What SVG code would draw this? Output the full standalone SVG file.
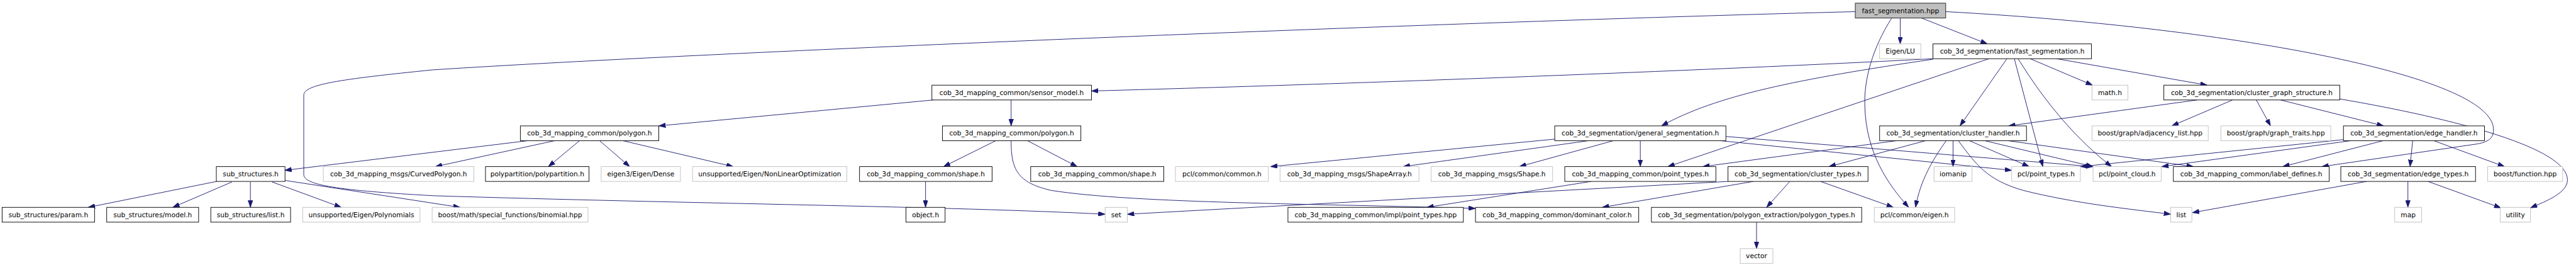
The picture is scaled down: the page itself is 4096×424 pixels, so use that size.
<svg xmlns="http://www.w3.org/2000/svg" width="4096" height="424" viewBox="0 0 4096 424">
<style>
.n rect{fill:#fff;stroke:#000;stroke-width:1.1}
.n.g rect{stroke:#bfbfbf}
.n.r rect{fill:#bfbfbf;stroke:#404040;stroke-width:1.4}
.n text{font-family:"DejaVu Sans","Liberation Sans",sans-serif;font-size:12.7px;text-anchor:middle;fill:#000}
#edges path{fill:none;stroke:#191970;stroke-width:1.1;marker-end:url(#ah)}
</style>
<defs>
<marker id="ah" markerUnits="userSpaceOnUse" markerWidth="13" markerHeight="9" refX="13" refY="4.5" orient="auto">
<path d="M0,0 L13,4.5 L0,9 z" fill="#191970" stroke="#191970" stroke-width="0.8"/>
</marker>
</defs>
<rect x="0" y="0" width="4096" height="424" fill="#fff"/>
<g transform="scale(0.84)">
<g id="edges">
<path d="M3597,34 L3597,83"/>
<path d="M3637,34 L3762,83"/>
<path d="M3581,34 C3545,90 3528,150 3530,200 C3532,290 3575,350 3613,392"/>
<path d="M3512,22 C2800,40 1400,95 820,132 C640,150 575,160 575,180 L575,330 C575,350 640,360 820,370 C1300,385 1800,390 2092,405"/>
<path d="M3683,22 C4200,50 4720,140 4720,245 C4720,262 4710,268 4690,272 L4395,315"/>
<path d="M3659,111 C3400,125 2700,155 2066,172"/>
<path d="M3659,112 C3400,150 3250,180 3145,238"/>
<path d="M3765,111 L3157,315"/>
<path d="M3799,111 L3710,238"/>
<path d="M3813,111 L3867,315"/>
<path d="M3820,111 Q3900,240 3997,315"/>
<path d="M3843,111 L3961,161"/>
<path d="M3893,111 L4178,161"/>
<path d="M4159,189 L3802,238"/>
<path d="M4226,189 L4111,238"/>
<path d="M4271,189 L4298,238"/>
<path d="M4317,189 L4512,238"/>
<path d="M4429,187 C4650,225 4860,280 4860,340 C4860,365 4820,380 4790,393"/>
<path d="M4436,264 L3938,315"/>
<path d="M4450,266 L4092,315"/>
<path d="M4511,266 L4321,315"/>
<path d="M4567,266 L4562,315"/>
<path d="M4607,266 L4741,315"/>
<path d="M4480,343 L4150,402"/>
<path d="M4558,343 L4558,392"/>
<path d="M4596,343 L4734,393"/>
<path d="M3590,266 L3223,315"/>
<path d="M3645,266 L3462,315"/>
<path d="M3684,266 C3660,300 3635,340 3626,392"/>
<path d="M3697,266 L3697,315"/>
<path d="M3728,266 L3841,315"/>
<path d="M3757,266 L3962,315"/>
<path d="M3801,266 L4152,315"/>
<path d="M3707,266 C3740,310 3760,340 3830,360 C3930,385 4030,395 4109,405"/>
<path d="M2943,263 L2405,315"/>
<path d="M3007,266 L2656,315"/>
<path d="M3054,266 L2876,315"/>
<path d="M3105,266 L3105,315"/>
<path d="M3257,266 L3808,322"/>
<path d="M3267,258 L3962,315"/>
<path d="M3271,343 L2134,405"/>
<path d="M3319,343 L3033,392"/>
<path d="M3388,343 L3344,392"/>
<path d="M3446,343 L3584,392"/>
<path d="M3012,343 L2701,392"/>
<path d="M3325,420 L3325,470"/>
<path d="M1914,189 L1914,238"/>
<path d="M1767,189 L1247,238"/>
<path d="M1885,266 L1786,315"/>
<path d="M1945,266 L2039,315"/>
<path d="M1914,266 C1914,320 1925,345 1990,360 C2150,385 2500,385 2793,394"/>
<path d="M1752,343 L1752,392"/>
<path d="M999,266 L539,322"/>
<path d="M1050,266 L824,315"/>
<path d="M1097,266 L1038,315"/>
<path d="M1135,266 L1192,315"/>
<path d="M1179,266 L1388,315"/>
<path d="M410,343 L167,392"/>
<path d="M439,344 L327,392"/>
<path d="M474,344 L474,392"/>
<path d="M515,344 L646,392"/>
<path d="M539,341 L871,392"/>
</g>
<g id="root" class="n r"><rect x="3512" y="6" width="171" height="28"/><text x="3597.5" y="24.5">fast_segmentation.hpp</text></g>
<g id="eigen_lu" class="n g"><rect x="3558" y="83" width="78" height="28"/><text x="3597" y="101.5">Eigen/LU</text></g>
<g id="fast_seg_h" class="n"><rect x="3659" y="83" width="300" height="28"/><text x="3809" y="101.5">cob_3d_segmentation/fast_segmentation.h</text></g>
<g id="sensor_model" class="n"><rect x="1764" y="161" width="302" height="28"/><text x="1915" y="179.5">cob_3d_mapping_common/sensor_model.h</text></g>
<g id="math_h" class="n g"><rect x="3960" y="161" width="68" height="28"/><text x="3994" y="179.5">math.h</text></g>
<g id="cluster_graph" class="n"><rect x="4096" y="161" width="333" height="28"/><text x="4262.5" y="179.5">cob_3d_segmentation/cluster_graph_structure.h</text></g>
<g id="polygon1" class="n"><rect x="985" y="238" width="262" height="28"/><text x="1116" y="256.5">cob_3d_mapping_common/polygon.h</text></g>
<g id="polygon2" class="n"><rect x="1784" y="238" width="262" height="28"/><text x="1915" y="256.5">cob_3d_mapping_common/polygon.h</text></g>
<g id="general_seg" class="n"><rect x="2943" y="238" width="324" height="28"/><text x="3105" y="256.5">cob_3d_segmentation/general_segmentation.h</text></g>
<g id="cluster_handler" class="n"><rect x="3558" y="238" width="278" height="28"/><text x="3697" y="256.5">cob_3d_segmentation/cluster_handler.h</text></g>
<g id="adjacency" class="n g"><rect x="3960" y="238" width="220" height="28"/><text x="4070" y="256.5">boost/graph/adjacency_list.hpp</text></g>
<g id="graph_traits" class="n g"><rect x="4204" y="238" width="208" height="28"/><text x="4308" y="256.5">boost/graph/graph_traits.hpp</text></g>
<g id="edge_handler" class="n"><rect x="4436" y="238" width="267" height="28"/><text x="4569.5" y="256.5">cob_3d_segmentation/edge_handler.h</text></g>
<g id="sub_structures" class="n"><rect x="409.5" y="315" width="130" height="28"/><text x="474.5" y="333.5">sub_structures.h</text></g>
<g id="curved_polygon" class="n g"><rect x="612" y="315" width="285" height="28"/><text x="754.5" y="333.5">cob_3d_mapping_msgs/CurvedPolygon.h</text></g>
<g id="polypartition" class="n"><rect x="919" y="315" width="196" height="28"/><text x="1017" y="333.5">polypartition/polypartition.h</text></g>
<g id="eigen_dense" class="n g"><rect x="1138" y="315" width="150" height="28"/><text x="1213" y="333.5">eigen3/Eigen/Dense</text></g>
<g id="nonlinopt" class="n g"><rect x="1311" y="315" width="292" height="28"/><text x="1457" y="333.5">unsupported/Eigen/NonLinearOptimization</text></g>
<g id="shape1" class="n"><rect x="1627" y="315" width="251" height="28"/><text x="1752.5" y="333.5">cob_3d_mapping_common/shape.h</text></g>
<g id="shape2" class="n"><rect x="1951" y="315" width="252" height="28"/><text x="2077" y="333.5">cob_3d_mapping_common/shape.h</text></g>
<g id="pcl_common" class="n g"><rect x="2225" y="315" width="176" height="28"/><text x="2313" y="333.5">pcl/common/common.h</text></g>
<g id="shape_array" class="n g"><rect x="2423" y="315" width="263" height="28"/><text x="2554.5" y="333.5">cob_3d_mapping_msgs/ShapeArray.h</text></g>
<g id="shape_msg" class="n g"><rect x="2709" y="315" width="230" height="28"/><text x="2824" y="333.5">cob_3d_mapping_msgs/Shape.h</text></g>
<g id="point_types" class="n"><rect x="2962" y="315" width="286" height="28"/><text x="3105" y="333.5">cob_3d_mapping_common/point_types.h</text></g>
<g id="cluster_types" class="n"><rect x="3271" y="315" width="265" height="28"/><text x="3403.5" y="333.5">cob_3d_segmentation/cluster_types.h</text></g>
<g id="iomanip" class="n g"><rect x="3661" y="315" width="72" height="28"/><text x="3697" y="333.5">iomanip</text></g>
<g id="pcl_point_types" class="n g"><rect x="3808" y="315" width="130" height="28"/><text x="3873" y="333.5">pcl/point_types.h</text></g>
<g id="pcl_point_cloud" class="n g"><rect x="3962" y="315" width="129" height="28"/><text x="4026.5" y="333.5">pcl/point_cloud.h</text></g>
<g id="label_defines" class="n"><rect x="4114" y="315" width="295" height="28"/><text x="4261.5" y="333.5">cob_3d_mapping_common/label_defines.h</text></g>
<g id="edge_types" class="n"><rect x="4431" y="315" width="255" height="28"/><text x="4558.5" y="333.5">cob_3d_segmentation/edge_types.h</text></g>
<g id="boost_function" class="n g"><rect x="4709" y="315" width="142" height="28"/><text x="4780" y="333.5">boost/function.hpp</text></g>
<g id="param" class="n"><rect x="4" y="392" width="175" height="28"/><text x="91.5" y="410.5">sub_structures/param.h</text></g>
<g id="model" class="n"><rect x="202" y="392" width="174" height="28"/><text x="289" y="410.5">sub_structures/model.h</text></g>
<g id="sub_list" class="n"><rect x="399" y="392" width="151" height="28"/><text x="474.5" y="410.5">sub_structures/list.h</text></g>
<g id="polynomials" class="n g"><rect x="573" y="392" width="222" height="28"/><text x="684" y="410.5">unsupported/Eigen/Polynomials</text></g>
<g id="binomial" class="n g"><rect x="818" y="392" width="295" height="28"/><text x="965.5" y="410.5">boost/math/special_functions/binomial.hpp</text></g>
<g id="object" class="n"><rect x="1715" y="392" width="74" height="28"/><text x="1752" y="410.5">object.h</text></g>
<g id="set" class="n g"><rect x="2092" y="392" width="42" height="28"/><text x="2113" y="410.5">set</text></g>
<g id="impl_point_types" class="n"><rect x="2438" y="392" width="332" height="28"/><text x="2604" y="410.5">cob_3d_mapping_common/impl/point_types.hpp</text></g>
<g id="dominant_color" class="n"><rect x="2793" y="392" width="309" height="28"/><text x="2947.5" y="410.5">cob_3d_mapping_common/dominant_color.h</text></g>
<g id="polygon_types" class="n"><rect x="3126" y="392" width="398" height="28"/><text x="3325" y="410.5">cob_3d_segmentation/polygon_extraction/polygon_types.h</text></g>
<g id="pcl_eigen" class="n g"><rect x="3548" y="392" width="152" height="28"/><text x="3624" y="410.5">pcl/common/eigen.h</text></g>
<g id="list" class="n g"><rect x="4109" y="392" width="40" height="28"/><text x="4129" y="410.5">list</text></g>
<g id="map" class="n g"><rect x="4533" y="392" width="51" height="28"/><text x="4558.5" y="410.5">map</text></g>
<g id="utility" class="n g"><rect x="4733" y="392" width="57" height="28"/><text x="4761.5" y="410.5">utility</text></g>
<g id="vector" class="n g"><rect x="3294" y="470" width="62" height="28"/><text x="3325" y="488.5">vector</text></g>
</g>
</svg>
